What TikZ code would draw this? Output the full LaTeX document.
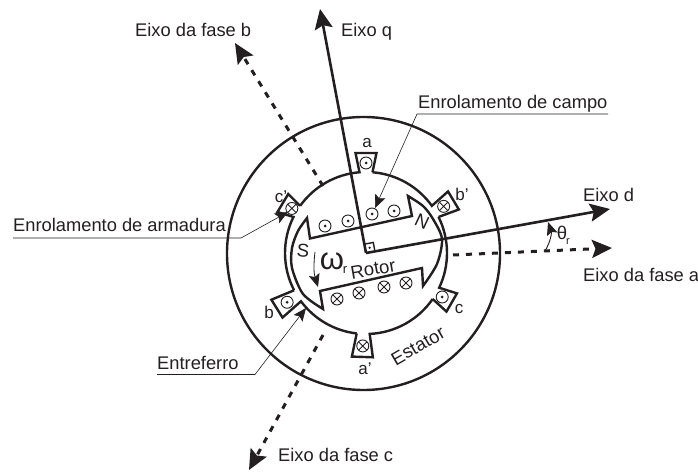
\documentclass[tikz,border=0pt]{standalone}
\usepackage{fontspec}
\setmainfont{Liberation Sans}
\usetikzlibrary{arrows.meta}
\definecolor{ink}{HTML}{231F20}

\tikzset{
  dotcoil/.pic={\draw[coilline] (0,0) circle (6); \fill[ink] (0,0) circle (1.5);},
  crosscoil/.pic={\draw[coilline] (0,0) circle (6); \draw[coilline] (-4.2,-4.2) -- (4.2,4.2) (-4.2,4.2) -- (4.2,-4.2);},
}

\begin{document}
\begin{tikzpicture}[x=1pt,y=1pt,>={Stealth[length=20pt,width=18pt,inset=3.5pt]},
      heavyline/.style={draw=ink,line width=2.4pt,line join=miter},
      axisline/.style={heavyline,line width=2.6pt,->},
      phaseline/.style={axisline,line width=3pt,dash pattern=on 6pt off 7pt},
      coilline/.style={draw=ink,line width=0.9pt},
      leaderline/.style={draw=ink,line width=0.6pt},
      leaderhead/.style={-{Stealth[length=13pt,width=11pt,inset=2.5pt]}},
      caption/.style={text=ink,font=\fontsize{18.3}{18}\selectfont,anchor=base west,inner sep=0pt},
      slotlabel/.style={text=ink,font=\fontsize{17}{17}\selectfont,inner sep=0pt},
      polelabel/.style={text=ink,font=\fontsize{18.5}{18}\selectfont,inner sep=0pt}]
  \useasboundingbox (0,0) rectangle (698,471);
  \coordinate (O) at (366,218);

  % estator
  \draw[heavyline] (363.5,217.5) circle (136.5);
  \foreach \ang/\nxt/\rad/\crad/\sym in {31/90/102/90.6/crosscoil, 90/149/100/90/dotcoil,
      149/212/97/86.5/crosscoil, 212/268/105/93/dotcoil, 268/330/104/93/crosscoil, 330/391/99/88/dotcoil}{
    \begin{scope}[shift={(O)},rotate=\ang]
      \draw[heavyline] (-4.6:81) -- (\rad,-10.5) -- (\rad,10.5) -- (4.6:81)
        arc[start angle=4.6,end angle=\nxt-\ang-4.6,radius=81];
      \pic at (\crad,0) {\sym};
    \end{scope}
  }

  % rotor
  \draw[heavyline] (307,253) -- (310,232.5) -- (412,255) -- (408,275)
    -- plot[smooth] coordinates {(408,275) (423,265) (433,252) (442,232) (437,207) (423,185)}
    -- (422,203) -- (320,180) -- (323,162)
    -- plot[smooth] coordinates {(323,162) (303,177) (292,203) (292,223) (298,240) (307,253)} -- cycle;
  \foreach \x/\y in {325/245, 348/250, 372/257, 394/260}
    \pic at (\x,\y) {dotcoil};
  \foreach \x/\y in {337/172, 359/178, 384/184, 406/188}
    \pic at (\x,\y) {crosscoil};

  % eixos
  \coordinate (dtip) at (610,262);
  \coordinate (qtip) at (320,462);
  \coordinate (atail) at (453,216);
  \coordinate (atip) at (612,223);
  \coordinate (btail) at (323,285);
  \coordinate (btip) at (235,428);
  \coordinate (ctail) at (323,136);
  \coordinate (ctip) at (249,1);
  \draw[axisline] (O) -- (dtip);
  \draw[axisline] (O) -- (qtip);
  \draw[phaseline] (atail) -- (atip);
  \draw[phaseline] (btail) -- (btip);
  \draw[phaseline] (ctail) -- (ctip);
  \draw[draw=ink,line width=1.4pt] (374.9,219.6) -- (373.3,228.5) -- (364.4,226.9);
  \fill[ink] (369.6,223.3) circle (1.2);

  % textos
  \node[caption] (eixob) at (135,434.5) {Eixo da fase b};
  \node[caption] (eixoq) at (341,434.5) {Eixo q};
  \node[caption] (eixod) at (583,269.5) {Eixo d};
  \node[caption] (eixoa) at (583,189.5) {Eixo da fase a};
  \node[caption] (eixoc) at (278,9.5) {Eixo da fase c};
  \node[caption] (campo) at (418,362.5) {Enrolamento de campo};
  \node[caption] (armadura) at (13,239) {Enrolamento de armadura};
  \node[caption] (entreferro) at (157,101.5) {Entreferro};

  \node[slotlabel] (la) at (367,328) {a};
  \node[slotlabel] (lbp) at (462,277) {b’};
  \node[slotlabel] (lcp) at (281,274) {c’};
  \node[slotlabel] (lb) at (269,159) {b};
  \node[slotlabel] (lc) at (459,162) {c};
  \node[slotlabel] (lap) at (365,102) {a’};

  \node[polelabel,rotate=-25] (north) at (422,249) {N};
  \node[polelabel,rotate=-5] (south) at (303,220) {S};
  \node[polelabel,rotate=10] (rotor) at (373,202) {Rotor};
  \node[polelabel,rotate=30] (estator) at (418,125) {Estator};
  \node[polelabel,font=\fontsize{31}{31}\selectfont] (omega) at (332,210) {ω};
  \node[polelabel,font=\fontsize{13}{13}\selectfont] (omegar) at (345,201) {r};
  \node[polelabel] (theta) at (562,238) {θ};
  \node[polelabel,font=\fontsize{11}{11}\selectfont] (thetar) at (568,229) {r};

  % setas finas
  \coordinate (campoa) at (608,357);
  \coordinate (campob) at (417,357);
  \coordinate (campotip) at (375,263);
  \coordinate (arma) at (13,233);
  \coordinate (armb) at (241,233);
  \coordinate (armtip) at (288,259);
  \coordinate (entra) at (157,96.5);
  \coordinate (entrb) at (255,96.5);
  \coordinate (entrtip) at (306,163);
  \draw[leaderline,leaderhead] (campoa) -- (campob) -- (campotip);
  \draw[leaderline,leaderhead] (arma) -- (armb) -- (armtip);
  \draw[leaderline,leaderhead] (entra) -- (entrb) -- (entrtip);
  \coordinate (wstart) at (315,219);
  \coordinate (wtip) at (318,184);
  \coordinate (tstart) at (545,220);
  \coordinate (ttip) at (548,249);
  \draw[leaderline,line width=0.8pt,leaderhead] (wstart) to[bend right=12] (wtip);
  \draw[leaderline,line width=0.9pt,leaderhead] (tstart) to[bend right=25] (ttip);
\end{tikzpicture}
\end{document}
